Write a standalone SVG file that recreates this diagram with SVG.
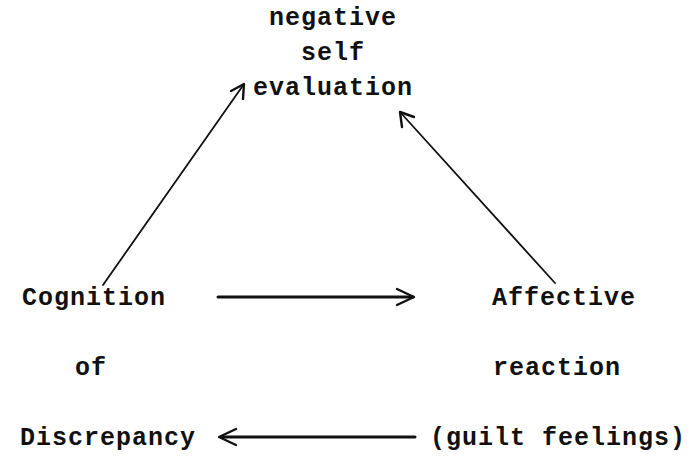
<svg xmlns="http://www.w3.org/2000/svg" width="700" height="468" viewBox="0 0 700 468">
<defs>
<style>
text{font-family:"Liberation Mono","DejaVu Sans Mono",monospace;font-size:25px;font-weight:bold;fill:#111;letter-spacing:1px}
.thin{stroke:#111;stroke-width:1.8;fill:none;stroke-linecap:round}
.thick{stroke:#111;stroke-width:3;fill:none;stroke-linecap:round}
.head{stroke:#111;stroke-width:2.4;fill:none;stroke-linecap:round;stroke-linejoin:round}
</style>
</defs>
<rect width="700" height="468" fill="#fff"/>
<g id="node-top">
<text x="333" y="25" text-anchor="middle">negative</text>
<text x="333" y="60" text-anchor="middle">self</text>
<text x="333" y="95" text-anchor="middle">evaluation</text>
</g>
<g id="node-left">
<text x="22" y="305">Cognition</text>
<text x="75" y="375">of</text>
<text x="20" y="445">Discrepancy</text>
</g>
<g id="node-right">
<text x="492" y="305">Affective</text>
<text x="493" y="375">reaction</text>
<text x="430" y="445">(guilt feelings)</text>
</g>
<g id="connectors">
<line class="thin" x1="103" y1="285" x2="244" y2="84"/>
<path class="head" d="M231 91 L244 84 L243 99"/>
<line class="thin" x1="555" y1="283" x2="400" y2="112"/>
<path class="head" d="M414 117 L400 112 L402 127"/>
<line class="thick" x1="218" y1="297" x2="413" y2="297"/>
<path class="head" d="M397 289 L414 297 L397 305"/>
<line class="thick" x1="222" y1="437" x2="415" y2="437"/>
<path class="head" d="M236 429 L219 437 L236 445"/>
</g>
</svg>
